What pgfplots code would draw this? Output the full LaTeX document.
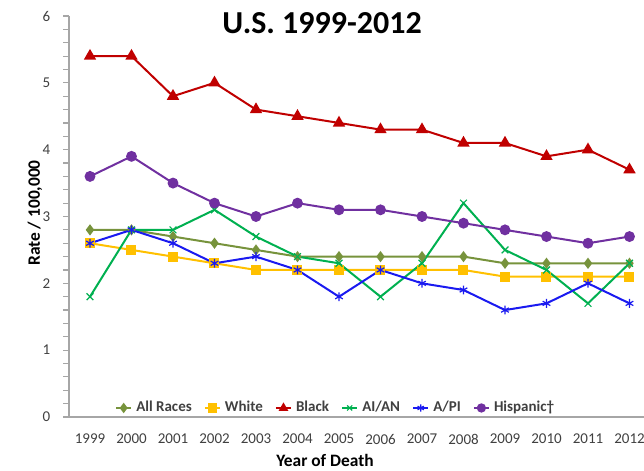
\documentclass[border=0pt]{standalone}
\usepackage{fontspec}
\setmainfont{Carlito}
\usepackage{pgfplots}
\pgfplotsset{compat=1.18}
\definecolor{cAll}{HTML}{77933C}
\definecolor{cWhite}{HTML}{FFC000}
\definecolor{cBlack}{HTML}{C00000}
\definecolor{cAian}{HTML}{00B050}
\definecolor{cApi}{HTML}{1A1AF0}
\definecolor{cHisp}{HTML}{7030A0}
\definecolor{axgray}{HTML}{A6A6A6}
\definecolor{txt}{HTML}{404040}
\begin{document}
\begin{tikzpicture}
\useasboundingbox (0,0) rectangle (322pt,235.5pt);
\clip (0,0) rectangle (322pt,235.5pt);
\begin{axis}[
  at={(34.625pt,27pt)}, anchor=south west,
  scale only axis, width=290.5pt, height=200.5pt,
  xmin=-0.5, xmax=13.5, ymin=0, ymax=6,
  axis x line*=bottom, axis y line*=left,
  axis line style={axgray, line width=0.8pt},
  xtick={0,...,13},
  xticklabels={1999,2000,2001,2002,2003,2004,2005,2006,2007,2008,2009,2010,2011,2012},
  xtick style={draw=none},
  minor xtick={-0.5,0.5,...,13.5},
  ytick={0,1,...,6},
  minor y tick num=4,
  tick align=outside,
  major tick length=3pt, minor tick length=3pt,
  every tick/.style={axgray, line width=0.6pt},
  every minor tick/.style={axgray, line width=0.6pt},
  /pgf/number format/assume math mode=true,
  ticklabel style={font=\fontsize{7.5}{9}\selectfont, text=txt},
  xticklabel style={yshift=-2pt},
  yticklabel style={xshift=-3pt},
  legend columns=6,
  legend style={draw=none, fill=none, at={(axis cs:0.45,0.135)}, anchor=west,
    font=\bfseries\fontsize{7.5}{9}\selectfont, text=txt,
    /tikz/every even column/.append style={column sep=4pt}},
  legend cell align=left,
  legend image code/.code={\draw[mark repeat=2,mark phase=2, mark size=1.8pt] plot coordinates {(0pt,0pt)(3.8pt,0pt)(7.6pt,0pt)};},
  every axis plot/.append style={line width=1pt},
]
\addplot[cAll, mark=diamond*, mark size=2pt] coordinates {(0,2.8)(1,2.8)(2,2.7)(3,2.6)(4,2.5)(5,2.4)(6,2.4)(7,2.4)(8,2.4)(9,2.4)(10,2.3)(11,2.3)(12,2.3)(13,2.3)};
\addlegendentry{All Races}
\addplot[cWhite, mark=square*, mark size=2pt] coordinates {(0,2.6)(1,2.5)(2,2.4)(3,2.3)(4,2.2)(5,2.2)(6,2.2)(7,2.2)(8,2.2)(9,2.2)(10,2.1)(11,2.1)(12,2.1)(13,2.1)};
\addlegendentry{White}
\addplot[cBlack, mark=triangle*, mark size=2.6pt] coordinates {(0,5.4)(1,5.4)(2,4.8)(3,5.0)(4,4.6)(5,4.5)(6,4.4)(7,4.3)(8,4.3)(9,4.1)(10,4.1)(11,3.9)(12,4.0)(13,3.7)};
\addlegendentry{Black}
\addplot[cAian, mark=x, mark size=2.4pt, mark options={line width=0.6pt}] coordinates {(0,1.8)(1,2.8)(2,2.8)(3,3.1)(4,2.7)(5,2.4)(6,2.3)(7,1.8)(8,2.3)(9,3.2)(10,2.5)(11,2.2)(12,1.7)(13,2.3)};
\addlegendentry{AI/AN}
\addplot[cApi, mark=asterisk, mark size=2.2pt, mark options={line width=0.6pt}] coordinates {(0,2.6)(1,2.8)(2,2.6)(3,2.3)(4,2.4)(5,2.2)(6,1.8)(7,2.2)(8,2.0)(9,1.9)(10,1.6)(11,1.7)(12,2.0)(13,1.7)};
\addlegendentry{A/PI}
\addplot[cHisp, mark=*, mark size=2.2pt] coordinates {(0,3.6)(1,3.9)(2,3.5)(3,3.2)(4,3.0)(5,3.2)(6,3.1)(7,3.1)(8,3.0)(9,2.9)(10,2.8)(11,2.7)(12,2.6)(13,2.7)};
\addlegendentry{Hispanic†}
\end{axis}
\node[font=\bfseries\fontsize{8.7}{10}\selectfont, text=black] at (162.5pt,5.5pt) {Year of Death};
\node[font=\bfseries\fontsize{8.7}{10}\selectfont, text=black, rotate=90] at (17.5pt,129pt) {Rate / 100,000};
\node[font=\bfseries\fontsize{16}{18}\selectfont, text=black] at (161pt,224pt) {U.S. 1999-2012};
\end{tikzpicture}
\end{document}
